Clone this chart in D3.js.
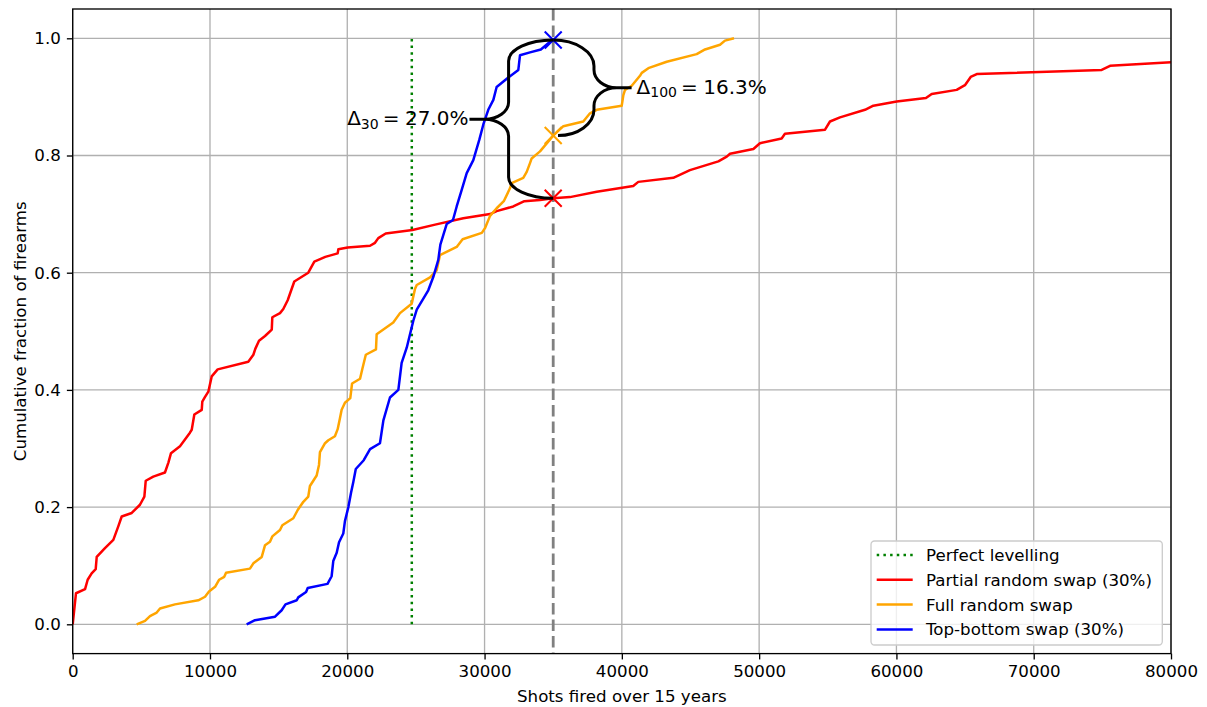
<!DOCTYPE html>
<html>
<head>
<meta charset="utf-8">
<script src="https://cdn.jsdelivr.net/npm/d3@7"></script>
<style>
  html, body { margin: 0; padding: 0; background: #fff; }
  svg { display: block; font-family: "DejaVu Sans", sans-serif; }
</style>
</head>
<body>
<svg id="chart" width="1207" height="707"></svg>
<script>
// Empirical CDFs of shots fired per firearm under three rotation strategies
const redSwap = [ // Partial random swap (30%)
  [0,0],[240,0.053],[900,0.060],[1090,0.076],[1380,0.087],[1675,0.094],[1750,0.115],[2350,0.130],
  [2960,0.144],[3320,0.167],[3570,0.184],[4300,0.190],[4900,0.204],[5220,0.218],[5320,0.245],
  [5870,0.252],[6720,0.259],[6970,0.276],[7160,0.292],[7815,0.304],[8540,0.327],[8670,0.332],
  [8860,0.358],[9400,0.366],[9440,0.380],[9640,0.388],[9880,0.397],[10125,0.423],[10560,0.435],
  [12790,0.448],[13160,0.460],[13300,0.470],[13570,0.484],[14010,0.492],[14500,0.503],[14540,0.524],
  [15100,0.531],[15340,0.538],[15660,0.553],[16140,0.585],[17160,0.600],[17600,0.619],[18400,0.627],
  [19300,0.633],[19350,0.640],[20030,0.643],[21660,0.646],[22020,0.651],[22260,0.659],[22800,0.667],
  [24750,0.673],[26400,0.682],[28450,0.693],[30400,0.700],[30880,0.705],[32090,0.713],[32900,0.722],
  [34040,0.724],[35000,0.727],[36220,0.729],[38170,0.738],[40830,0.748],[41200,0.755],[43750,0.762],
  [44960,0.775],[47030,0.790],[47640,0.798],[47880,0.803],[49580,0.811],[50060,0.821],[51640,0.829],
  [51880,0.837],[54800,0.844],[55160,0.858],[55890,0.865],[57710,0.878],[58320,0.885],[60020,0.892],
  [62150,0.898],[62570,0.905],[64390,0.912],[64990,0.920],[65410,0.934],[65850,0.939],[74950,0.946],
  [75560,0.953],[80000,0.959],[82000,0.962]
];
const fullSwap = [ // Full random swap
  [4660,0],[5270,0.006],[5630,0.014],[6120,0.020],[6360,0.027],[7450,0.034],[9150,0.041],[9640,0.047],
  [9930,0.056],[10370,0.064],[10660,0.076],[11040,0.081],[11170,0.088],[12910,0.095],[13160,0.104],
  [13770,0.115],[14010,0.135],[14370,0.141],[14540,0.150],[15100,0.161],[15270,0.169],[16070,0.181],
  [16390,0.195],[16800,0.209],[17160,0.218],[17280,0.236],[17770,0.254],[17940,0.272],[18010,0.294],
  [18380,0.309],[18620,0.314],[19100,0.321],[19300,0.333],[19470,0.352],[19590,0.366],[19830,0.378],
  [20220,0.386],[20350,0.411],[20930,0.419],[21100,0.436],[21350,0.460],[22090,0.469],[22140,0.495],
  [23350,0.515],[23840,0.531],[24690,0.547],[24930,0.572],[25060,0.579],[26030,0.592],[26510,0.604],
  [26750,0.630],[27970,0.644],[28400,0.657],[29800,0.668],[30030,0.676],[30400,0.697],[30880,0.710],
  [31400,0.722],[31850,0.744],[31970,0.753],[32820,0.762],[33070,0.772],[33310,0.787],[33430,0.795],
  [34040,0.807],[35000,0.834],[35740,0.850],[37190,0.858],[37680,0.872],[38170,0.878],[39990,0.885],
  [40110,0.903],[40230,0.912],[40720,0.919],[41320,0.936],[41450,0.941],[41930,0.949],[43270,0.960],
  [45450,0.973],[46060,0.981],[47150,0.989],[47510,0.996],[48170,1.0]
];
const topBottomSwap = [ // Top-bottom swap (30%)
  [12670,0],[13280,0.007],[14740,0.013],[15220,0.024],[15500,0.034],[16320,0.041],[16430,0.046],
  [17000,0.055],[17120,0.062],[18560,0.069],[18860,0.082],[18980,0.108],[19230,0.122],[19400,0.140],
  [19710,0.155],[19830,0.176],[20080,0.200],[20270,0.224],[20440,0.243],[20620,0.265],[21200,0.280],
  [21660,0.299],[22380,0.309],[22630,0.348],[23110,0.387],[23720,0.400],[23960,0.446],[24330,0.472],
  [24810,0.518],[25060,0.537],[25900,0.570],[26270,0.593],[26630,0.622],[26780,0.648],[27240,0.683],
  [27700,0.690],[27970,0.713],[28330,0.741],[28700,0.770],[29180,0.792],[29620,0.827],[29910,0.853],
  [30270,0.878],[30640,0.895],[30880,0.917],[31730,0.933],[32460,0.946],[32580,0.971],[33310,0.976],
  [34100,0.981],[34770,0.994],[35000,0.997]
];
const perfectLevel = [[24700,0],[24700,1.0]];

// Comparison point and the fractions read there
const checkShots = 35000;
const fracTopBottom = 0.997;
const fracFull = 0.834;
const fracPartial = 0.727;

const xTicks = [0,10000,20000,30000,40000,50000,60000,70000,80000];
const yTicks = [0.0,0.2,0.4,0.6,0.8,1.0];

const seriesNames = ["Perfect levelling","Partial random swap (30%)","Full random swap","Top-bottom swap (30%)"];
const seriesColors = ["green","red","orange","blue"];

// ---------------------------------------------------------------------------
const svg = d3.select("#chart");
const L = 72.7, R = 1171, T = 9, B = 653.6;
const x = d3.scaleLinear().domain([0,80000]).range([L,R]);
const y = d3.scaleLinear().domain([-0.05,1.05]).range([B,T]);
const FS = 16.67;

svg.append("defs").append("clipPath").attr("id","plotclip")
  .append("rect").attr("x",L).attr("y",T).attr("width",R-L).attr("height",B-T);

// grid
const grid = svg.append("g").attr("stroke","#b0b0b0").attr("stroke-width",1.33);
grid.selectAll(".gx").data(xTicks).join("line")
  .attr("x1",d=>x(d)).attr("x2",d=>x(d)).attr("y1",T).attr("y2",B);
grid.selectAll(".gy").data(yTicks).join("line")
  .attr("x1",L).attr("x2",R).attr("y1",d=>y(d)).attr("y2",d=>y(d));

// axes
const xAxis = svg.append("g").attr("transform",`translate(0,${B})`)
  .call(d3.axisBottom(x).tickValues(xTicks).tickFormat(d3.format("d")).tickSize(5.83).tickSizeOuter(0).tickPadding(6));
const yAxis = svg.append("g").attr("transform",`translate(${L},0)`)
  .call(d3.axisLeft(y).tickValues(yTicks).tickFormat(d3.format(".1f")).tickSize(5.83).tickSizeOuter(0).tickPadding(6));
[xAxis,yAxis].forEach(a=>{
  a.select(".domain").remove();
  a.selectAll(".tick line").attr("stroke","#000").attr("stroke-width",1.33);
  a.selectAll(".tick text").attr("font-family","DejaVu Sans").attr("font-size",FS).attr("fill","#000");
});

const plot = svg.append("g").attr("clip-path","url(#plotclip)");
const line = d3.line().x(d=>x(d[0])).y(d=>y(d[1]));

plot.append("path").datum(perfectLevel).attr("d",line)
  .attr("fill","none").attr("stroke",seriesColors[0]).attr("stroke-width",2.5)
  .attr("stroke-dasharray","2.5,4.2");
[[redSwap,1],[fullSwap,2],[topBottomSwap,3]].forEach(([data,i])=>{
  plot.append("path").datum(data).attr("d",line)
    .attr("fill","none").attr("stroke",seriesColors[i]).attr("stroke-width",2.5)
    .attr("stroke-linejoin","round");
});

// reference shot count
plot.append("line").attr("x1",x(checkShots)).attr("x2",x(checkShots))
  .attr("y1",y(1.05)).attr("y2",y(-0.05))
  .attr("stroke","#808080").attr("stroke-width",2.8).attr("stroke-dasharray","11.5,5");

// x markers
const marks = [[fracTopBottom,"blue"],[fracFull,"orange"],[fracPartial,"red"]];
const ms = 8.5;
marks.forEach(([f,c])=>{
  const cx = x(checkShots), cy = y(f);
  svg.append("path")
    .attr("d",`M${cx-ms},${cy-ms}L${cx+ms},${cy+ms}M${cx-ms},${cy+ms}L${cx+ms},${cy-ms}`)
    .attr("stroke",c).attr("stroke-width",2);
});

// curly braces
function brace(xTopEnd, xBotEnd, xSpine, xTip, yTop, yBot, r, ri){
  const k = 0.552, neck = 15;
  const dir = Math.sign(xTip - xSpine);
  const xNeck = xTip - dir*neck;
  const yMid = (yTop + yBot)/2;
  const p = d3.path();
  p.moveTo(xTopEnd, yTop);
  p.bezierCurveTo(xTopEnd + (xSpine-xTopEnd)*k, yTop, xSpine, yTop + r*(1-k), xSpine, yTop + r);
  p.lineTo(xSpine, yMid - ri);
  p.bezierCurveTo(xSpine, yMid - ri*(1-k), xNeck + (xSpine-xNeck)*k, yMid, xNeck, yMid);
  p.lineTo(xTip, yMid);
  p.moveTo(xNeck, yMid);
  p.bezierCurveTo(xNeck + (xSpine-xNeck)*k, yMid, xSpine, yMid + ri*(1-k), xSpine, yMid + ri);
  p.lineTo(xSpine, yBot - r);
  p.bezierCurveTo(xSpine, yBot - r*(1-k), xBotEnd + (xSpine-xBotEnd)*k, yBot, xBotEnd, yBot);
  svg.append("path").attr("d",p.toString()).attr("fill","none")
    .attr("stroke","#000").attr("stroke-width",3).attr("stroke-linecap","butt");
  return yMid;
}
const mid30 = brace(x(checkShots), x(checkShots), x(31750), x(28900), y(fracTopBottom), y(fracPartial), 21, 17);
const mid100 = brace(x(checkShots), x(35350), x(37970), x(40710), y(fracTopBottom), y(fracFull), 26, 18);

function deltaLabel(xPos, yPos, anchor, sub, value){
  const t = svg.append("text").attr("x",xPos).attr("y",yPos+6)
    .attr("text-anchor",anchor).attr("font-size",20).attr("fill","#000");
  t.append("tspan").text("Δ");
  t.append("tspan").attr("font-size",14).attr("dy",3.5).text(sub);
  t.append("tspan").attr("dy",-3.5).attr("dx",4).text("=");
  t.append("tspan").attr("dx",5.5).text(value.toFixed(1) + "%");
}
deltaLabel(x(28900)-1, mid30, "end", "30", (fracTopBottom - fracPartial)*100);
deltaLabel(x(40710)+5, mid100, "start", "100", (fracTopBottom - fracFull)*100);

// frame
svg.append("rect").attr("x",L).attr("y",T).attr("width",R-L).attr("height",B-T)
  .attr("fill","none").attr("stroke","#000").attr("stroke-width",1.33);

// axis labels
svg.append("text").attr("x",(L+R)/2).attr("y",702).attr("text-anchor","middle")
  .attr("font-size",FS).text("Shots fired over 15 years");
svg.append("text").attr("transform",`translate(26,${(T+B)/2}) rotate(-90)`)
  .attr("text-anchor","middle").attr("font-size",FS).text("Cumulative fraction of firearms");

// legend
const lg = svg.append("g");
lg.append("rect").attr("x",871).attr("y",541).attr("width",291.3).attr("height",104)
  .attr("rx",3.5).attr("fill","rgba(255,255,255,0.8)").attr("stroke","#cccccc").attr("stroke-width",1.33);
const rowY = i => 555 + i*24.8;
seriesNames.forEach((name,i)=>{
  const ln = lg.append("line").attr("x1",876.7).attr("x2",912.7).attr("y1",rowY(i)).attr("y2",rowY(i))
    .attr("stroke",seriesColors[i]).attr("stroke-width",2.5);
  if(i===0) ln.attr("stroke-dasharray","2.5,4.2");
  lg.append("text").attr("x",926).attr("y",rowY(i)+6).attr("font-size",FS).text(name);
});
</script>
</body>
</html>
